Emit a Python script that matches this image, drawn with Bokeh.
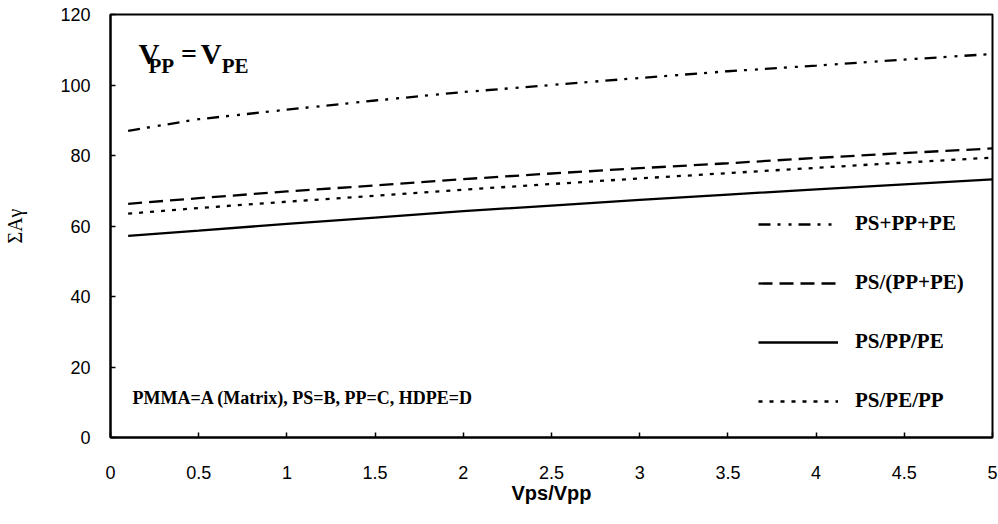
from bokeh.plotting import figure
from bokeh.models import Legend, LegendItem, Label, FixedTicker
from bokeh.embed import file_html
from bokeh.resources import INLINE

# ---- data ----
x_vals = [0.1, 0.5, 1.0, 1.5, 2.0, 2.5, 3.0, 3.5, 4.0, 4.5, 5.0]
ps_pp_pe = [87.0, 90.3, 93.0, 95.6, 98.0, 100.0, 102.0, 103.9, 105.5, 107.2, 108.8]
ps_ppPe = [66.3, 67.9, 69.8, 71.5, 73.3, 74.9, 76.4, 77.8, 79.3, 80.7, 82.0]
ps_pp_pe_layer = [57.2, 58.7, 60.6, 62.4, 64.2, 65.8, 67.4, 68.9, 70.4, 71.8, 73.2]
ps_pe_pp = [63.5, 65.1, 66.9, 68.6, 70.3, 71.9, 73.5, 75.0, 76.5, 78.0, 79.4]

series_names = ["PS+PP+PE", "PS/(PP+PE)", "PS/PP/PE", "PS/PE/PP"]

x_ticks = [0, 0.5, 1, 1.5, 2, 2.5, 3, 3.5, 4, 4.5, 5]
x_tick_labels = ["0", "0.5", "1", "1.5", "2", "2.5", "3", "3.5", "4", "4.5", "5"]
y_ticks = [0, 20, 40, 60, 80, 100, 120]
y_tick_labels = ["0", "20", "40", "60", "80", "100", "120"]

p = figure(width=998, height=524, x_range=(0, 5), y_range=(0, 120),
           output_backend="svg", toolbar_location=None,
           min_border_left=110, min_border_right=6,
           min_border_top=14, min_border_bottom=87)

p.xgrid.visible = False
p.ygrid.visible = False
p.outline_line_color = "black"
p.outline_line_width = 2

for ax in (p.xaxis[0], p.yaxis[0]):
    ax.axis_line_width = 2
    ax.axis_line_color = "black"
    ax.major_tick_in = 5
    ax.major_tick_out = 0
    ax.minor_tick_in = 0
    ax.minor_tick_out = 0
    ax.major_tick_line_width = 1.5
    ax.major_tick_line_color = "black"
    ax.major_label_text_font = "Liberation Sans"
    ax.major_label_text_font_size = "18px"
    ax.major_label_text_color = "black"
    ax.axis_label_text_color = "black"

p.xaxis.ticker = FixedTicker(ticks=x_ticks)
p.xaxis.major_label_overrides = {t: l for t, l in zip(x_ticks, x_tick_labels)}
p.yaxis.ticker = FixedTicker(ticks=y_ticks)
p.yaxis.major_label_overrides = {t: l for t, l in zip(y_ticks, y_tick_labels)}

p.xaxis.major_label_standoff = 28
p.yaxis.major_label_standoff = 20

p.xaxis.axis_label = "Vps/Vpp"
p.xaxis.axis_label_text_font = "Liberation Sans"
p.xaxis.axis_label_text_font_style = "bold"
p.xaxis.axis_label_text_font_size = "20px"
p.xaxis.axis_label_standoff = 0

p.yaxis.axis_label = "ΣAγ"
p.yaxis.axis_label_text_font = "Liberation Serif"
p.yaxis.axis_label_text_font_style = "normal"
p.yaxis.axis_label_text_font_size = "20px"
p.yaxis.axis_label_standoff = 31

r1 = p.line(x_vals, ps_pp_pe, line_color="black", line_width=2.3, line_dash="12 7 3 8 3 7")
r2 = p.line(x_vals, ps_ppPe, line_color="black", line_width=2.3, line_dash="14 7")
r3 = p.line(x_vals, ps_pp_pe_layer, line_color="black", line_width=2.3)
r4 = p.line(x_vals, ps_pe_pp, line_color="black", line_width=2.3, line_dash="4 7")

legend = Legend(items=[LegendItem(label=n, renderers=[r]) for n, r in
                       zip(series_names, [r1, r2, r3, r4])],
                location=(648, 24))
legend.glyph_width = 80
legend.glyph_height = 20
legend.label_height = 20
legend.spacing = 34
legend.label_standoff = 17
legend.padding = 0
legend.margin = 0
legend.border_line_color = None
legend.background_fill_alpha = 0
legend.label_text_font = "Liberation Serif"
legend.label_text_font_style = "bold"
legend.label_text_font_size = "21px"
legend.label_text_color = "black"
p.add_layout(legend, "center")

txt = dict(text_font="Liberation Serif", text_font_style="bold",
           text_color="black", text_baseline="alphabetic")
p.add_layout(Label(x=0.125, y=11.1, text="PMMA=A (Matrix), PS=B, PP=C, HDPE=D",
                   text_font_size="18px", **txt))
p.add_layout(Label(x=0.159, y=108.9, text="V", text_font_size="29px", **txt))
p.add_layout(Label(x=0.215, y=105.3, text="PP", text_font_size="21px", **txt))
p.add_layout(Label(x=0.40, y=108.9, text="=", text_font_size="28px", **txt))
p.add_layout(Label(x=0.512, y=108.9, text="V", text_font_size="29px", **txt))
p.add_layout(Label(x=0.630, y=105.3, text="PE", text_font_size="21px", **txt))

open("out.html", "w").write(file_html(p, INLINE))
